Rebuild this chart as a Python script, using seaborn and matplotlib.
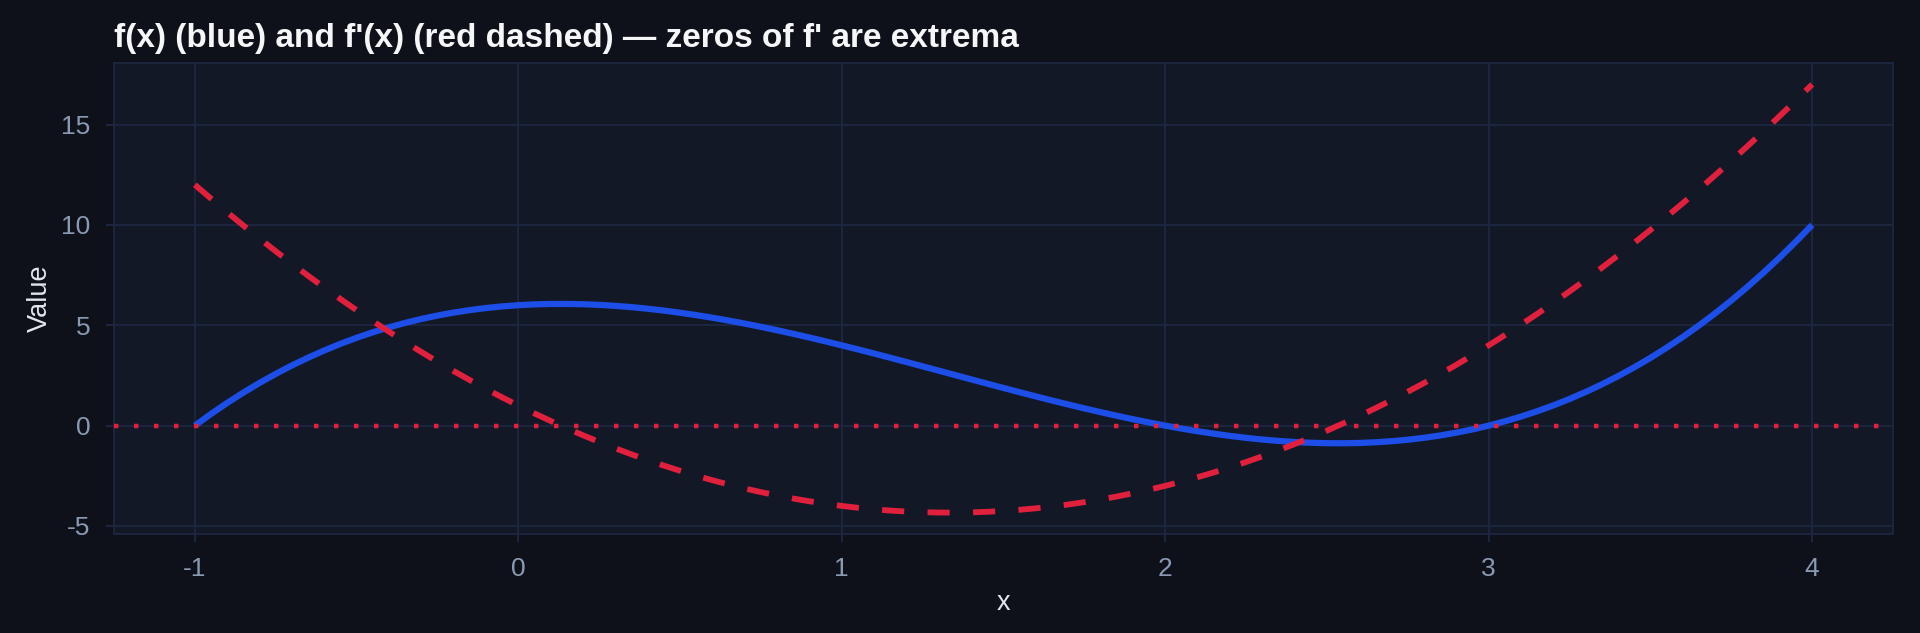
import matplotlib
matplotlib.use("Agg")
import matplotlib.pyplot as plt
import seaborn as sns
import pandas as pd

# ---- data ----
x_vals = [-1.00, -0.95, -0.90, -0.85, -0.80, -0.75, -0.70, -0.65, -0.60, -0.55,
          -0.50, -0.45, -0.40, -0.35, -0.30, -0.25, -0.20, -0.15, -0.10, -0.05,
          0.00, 0.05, 0.10, 0.15, 0.20, 0.25, 0.30, 0.35, 0.40, 0.45,
          0.50, 0.55, 0.60, 0.65, 0.70, 0.75, 0.80, 0.85, 0.90, 0.95,
          1.00, 1.05, 1.10, 1.15, 1.20, 1.25, 1.30, 1.35, 1.40, 1.45,
          1.50, 1.55, 1.60, 1.65, 1.70, 1.75, 1.80, 1.85, 1.90, 1.95,
          2.00, 2.05, 2.10, 2.15, 2.20, 2.25, 2.30, 2.35, 2.40, 2.45,
          2.50, 2.55, 2.60, 2.65, 2.70, 2.75, 2.80, 2.85, 2.90, 2.95,
          3.00, 3.05, 3.10, 3.15, 3.20, 3.25, 3.30, 3.35, 3.40, 3.45,
          3.50, 3.55, 3.60, 3.65, 3.70, 3.75, 3.80, 3.85, 3.90, 3.95,
          4.00]
f_vals = [0.0, 0.583, 1.131, 1.646, 2.128, 2.578, 2.997, 3.385, 3.744, 4.074,
          4.375, 4.649, 4.896, 5.117, 5.313, 5.484, 5.632, 5.757, 5.859, 5.940,
          6.0, 6.040, 6.061, 6.063, 6.048, 6.016, 5.967, 5.903, 5.824, 5.731,
          5.625, 5.506, 5.376, 5.235, 5.083, 4.922, 4.752, 4.574, 4.389, 4.197,
          4.0, 3.798, 3.591, 3.381, 3.168, 2.953, 2.737, 2.520, 2.304, 2.089,
          1.875, 1.664, 1.456, 1.252, 1.053, 0.859, 0.672, 0.492, 0.319, 0.155,
          0.0, -0.145, -0.279, -0.402, -0.512, -0.609, -0.693, -0.762, -0.816, -0.854,
          -0.875, -0.879, -0.864, -0.830, -0.777, -0.703, -0.608, -0.491, -0.351, -0.188,
          0.0, 0.213, 0.451, 0.716, 1.008, 1.328, 1.677, 2.055, 2.464, 2.904,
          3.375, 3.879, 4.416, 4.987, 5.593, 6.234, 6.912, 7.627, 8.379, 9.170,
          10.0]
df_vals = [12.0, 11.308, 10.63, 9.968, 9.32, 8.688, 8.07, 7.468, 6.88, 6.308,
           5.75, 5.208, 4.68, 4.168, 3.67, 3.188, 2.72, 2.268, 1.83, 1.408,
           1.0, 0.608, 0.23, -0.133, -0.48, -0.813, -1.13, -1.433, -1.72, -1.993,
           -2.25, -2.493, -2.72, -2.933, -3.13, -3.313, -3.48, -3.633, -3.77, -3.893,
           -4.0, -4.093, -4.17, -4.233, -4.28, -4.313, -4.33, -4.333, -4.32, -4.293,
           -4.25, -4.193, -4.12, -4.033, -3.93, -3.813, -3.68, -3.533, -3.37, -3.193,
           -3.0, -2.793, -2.57, -2.333, -2.08, -1.813, -1.53, -1.233, -0.92, -0.593,
           -0.25, 0.108, 0.48, 0.868, 1.27, 1.688, 2.12, 2.568, 3.03, 3.508,
           4.0, 4.508, 5.03, 5.568, 6.12, 6.688, 7.27, 7.868, 8.48, 9.108,
           9.75, 10.408, 11.08, 11.768, 12.47, 13.188, 13.92, 14.668, 15.43, 16.208,
           17.0]
zero_level = 0.0
x_ticks = [-1, 0, 1, 2, 3, 4]
y_ticks = [-5, 0, 5, 10, 15]
title_text = "f(x) (blue) and f'(x) (red dashed) \u2014 zeros of f' are extrema"
x_label = "x"
y_label = "Value"

# ---- style ----
FIG_BG = "#0e1119"
AX_BG = "#121826"
GRID = "#1c2740"
TICK_TXT = "#8b9ab3"
LABEL_TXT = "#e2e6ee"
BLUE = "#1d4ee8"
RED = "#e0203c"

sns.set_theme(style="darkgrid")
plt.rcParams["font.family"] = ["Liberation Sans", "DejaVu Sans"]
plt.rcParams["axes.unicode_minus"] = False

fig = plt.figure(figsize=(19.2, 6.33), dpi=100, facecolor=FIG_BG)
ax = fig.add_axes([114 / 1920, 1 - 534 / 633, (1893 - 114) / 1920, (534 - 63) / 633])
ax.set_facecolor(AX_BG)

data = pd.DataFrame({"x": x_vals, "f": f_vals, "df": df_vals})

sns.lineplot(data=data, x="x", y="f", ax=ax, color=BLUE, linewidth=4.5,
             solid_capstyle="butt", zorder=3)
sns.lineplot(data=data, x="x", y="df", ax=ax, color=RED, linewidth=4.2, zorder=3)
ax.lines[-1].set_linestyle((0, (3.8, 4.0)))
ax.lines[-1].set_dash_capstyle("butt")

zl = ax.axhline(zero_level, color=RED, linewidth=3.2, zorder=4)
zl.set_linestyle((0, (1.0, 3.5)))
zl.set_dash_capstyle("butt")

ax.set_xlim(-1.25, 4.25)
ax.set_xticks(x_ticks)
ax.set_xticklabels([str(t) for t in x_ticks])
ax.set_yticks(y_ticks)
ax.set_yticklabels([str(t) for t in y_ticks])

ax.grid(True, color=GRID, linewidth=1.3)
for s in ax.spines.values():
    s.set_visible(True)
    s.set_color(GRID)
    s.set_linewidth(1.3)

ax.tick_params(axis="both", which="major", length=5.8, width=1.4, color=GRID,
               labelcolor=TICK_TXT, labelsize=19, pad=11, bottom=True, left=True)

ax.set_xlabel(x_label, fontsize=19.5, color=LABEL_TXT, labelpad=6)
ax.set_ylabel(y_label, fontsize=19.5, color=LABEL_TXT, labelpad=6.5)
ax.set_title(title_text, loc="left", fontsize=24, fontweight="bold",
             color="#f5f6f8", pad=11.5)

fig.savefig("out.png", dpi=100, facecolor=FIG_BG)
